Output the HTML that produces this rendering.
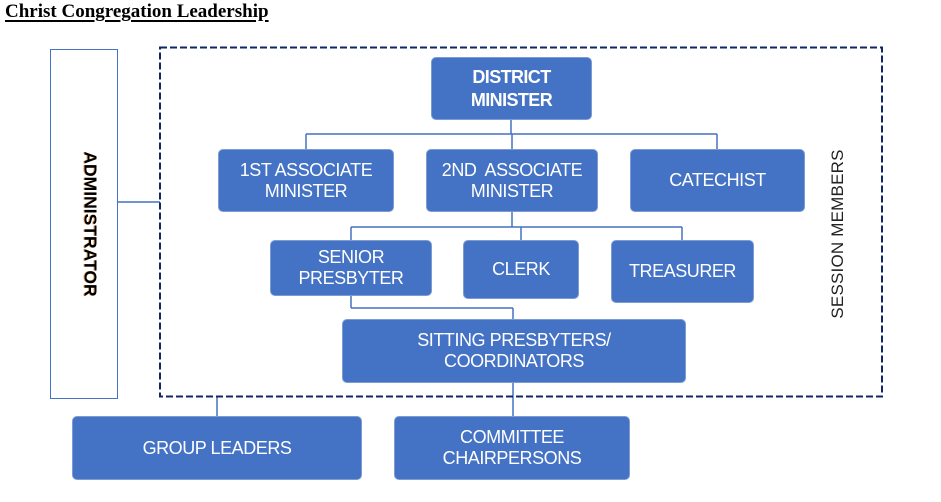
<!DOCTYPE html>
<html>
<head>
<meta charset="utf-8">
<style>
  html,body{margin:0;padding:0;background:#fff;}
  body{width:941px;height:502px;position:relative;overflow:hidden;font-family:"Liberation Sans",sans-serif;}
  .title{position:absolute;left:5px;top:1px;font-family:"Liberation Serif",serif;font-weight:bold;font-size:19px;color:#000;text-decoration:underline;text-decoration-thickness:2px;text-underline-offset:3px;white-space:nowrap;}
  .box{position:absolute;background:#4472C4;border:1px solid #7d9bd3;border-radius:5px;box-sizing:border-box;color:#fff;display:flex;align-items:center;justify-content:center;text-align:center;font-size:18px;line-height:21px;letter-spacing:-0.45px;}
  .b{font-weight:bold;line-height:23px;letter-spacing:-0.6px;}
  .admin{position:absolute;left:50px;top:49px;width:68px;height:350px;border:1px solid #4472C4;box-sizing:border-box;background:#fff;}
  .vt{position:absolute;white-space:nowrap;}
  svg{position:absolute;left:0;top:0;}
</style>
</head>
<body>
<div class="title">Christ Congregation Leadership</div>

<svg width="941" height="502" viewBox="0 0 941 502">
  <g stroke="#4472C4" stroke-width="1.5" fill="none">
    <line x1="117" y1="202" x2="160" y2="202"/>
    <line x1="511" y1="120" x2="511" y2="134"/>
    <line x1="306" y1="134" x2="717" y2="134"/>
    <line x1="306" y1="134" x2="306" y2="149"/>
    <line x1="512" y1="134" x2="512" y2="149"/>
    <line x1="717" y1="134" x2="717" y2="149"/>
    <line x1="512" y1="212" x2="512" y2="227"/>
    <line x1="351" y1="227" x2="682" y2="227"/>
    <line x1="351" y1="227" x2="351" y2="240"/>
    <line x1="521" y1="227" x2="521" y2="240"/>
    <line x1="682" y1="227" x2="682" y2="240"/>
    <line x1="351" y1="296" x2="351" y2="308"/>
    <line x1="351" y1="308" x2="513" y2="308"/>
    <line x1="513" y1="308" x2="513" y2="319"/>
    <line x1="513" y1="383" x2="513" y2="416"/>
    <line x1="217" y1="397" x2="217" y2="416"/>
  </g>
  <rect x="160" y="47.5" width="722" height="349" fill="none" stroke="#102766" stroke-width="2" stroke-dasharray="7 3"/>
</svg>

<div class="admin"></div>
<div class="vt" style="left:90px;top:224px;transform:translate(-50%,-50%) rotate(90deg);font-weight:bold;font-size:17.5px;color:#000;text-shadow:0 1px 0 #e8a060;">ADMINISTRATOR</div>
<div class="vt" style="left:838px;top:234px;transform:translate(-50%,-50%) rotate(-90deg);font-size:17px;color:#222;letter-spacing:0.2px;">SESSION MEMBERS</div>

<div class="box b" style="left:431px;top:57px;width:161px;height:63px;">DISTRICT<br>MINISTER</div>

<div class="box" style="left:218px;top:149px;width:176px;height:63px;">1ST ASSOCIATE<br>MINISTER</div>
<div class="box" style="left:426px;top:149px;width:172px;height:63px;">2ND&nbsp; ASSOCIATE<br>MINISTER</div>
<div class="box" style="left:630px;top:149px;width:175px;height:63px;">CATECHIST</div>

<div class="box" style="left:270px;top:240px;width:162px;height:56px;">SENIOR<br>PRESBYTER</div>
<div class="box" style="left:463px;top:240px;width:116px;height:59px;">CLERK</div>
<div class="box" style="left:611px;top:240px;width:143px;height:63px;">TREASURER</div>

<div class="box" style="left:342px;top:319px;width:344px;height:64px;">SITTING PRESBYTERS/<br>COORDINATORS</div>

<div class="box" style="left:72px;top:416px;width:290px;height:64px;">GROUP LEADERS</div>
<div class="box" style="left:394px;top:416px;width:236px;height:64px;">COMMITTEE<br>CHAIRPERSONS</div>
</body>
</html>
